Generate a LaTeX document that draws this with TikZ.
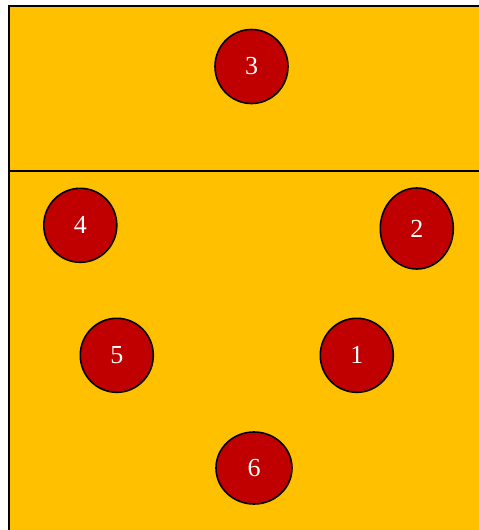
\documentclass[tikz,border=0pt]{standalone}
\usepackage{fontspec}
\setmainfont{Liberation Serif}
\usetikzlibrary{shapes.geometric}
\definecolor{court}{HTML}{FFC000}
\definecolor{shirt}{HTML}{C00000}
\begin{document}
\begin{tikzpicture}[x=1pt,y=-1pt,
	player/.style={ellipse, draw, line width=1.6pt, fill=shirt, text=white, inner sep=0pt,
		minimum width=73pt, minimum height=74pt, font=\fontsize{26}{28}\selectfont}]
	\useasboundingbox (0,0) rectangle (479,530);
	\clip (0,0) rectangle (479,530);
	% Terrain
	\draw[fill=court, line width=2pt] (9,6) rectangle (490,545);
	\draw[line width=2pt] (9,171) -- (490,171);
	% Joueurs
	\node[player] (p3) at (251.5,66.5) {3};
	\node[player] (p4) at (80.3,225.3) {4};
	\node[player, minimum height=81pt] (p2) at (416.8,228.5) {2};
	\node[player] (p5) at (116.8,355.3) {5};
	\node[player] (p1) at (356.8,355.3) {1};
	\node[player, minimum width=76pt, minimum height=72pt] (p6) at (254,468) {6};
\end{tikzpicture}
\end{document}
